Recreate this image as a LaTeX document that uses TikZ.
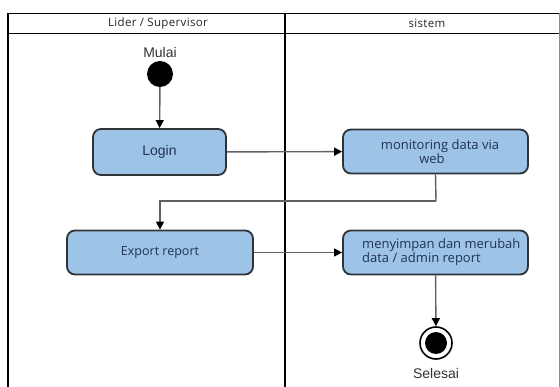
\documentclass[tikz,border=0pt]{standalone}
\usepackage{fontspec}
\setmainfont{Open Sans}
\newfontfamily\arialfont{Liberation Sans}
\newfontfamily\headfont[LetterSpace=3]{Open Sans}
\usetikzlibrary{arrows.meta}
\definecolor{actblue}{HTML}{9DC3E6}
\definecolor{actedge}{HTML}{2E3338}
\definecolor{acttext}{HTML}{1F3550}
\definecolor{flowgray}{HTML}{606060}
\tikzset{
  lane/.style={draw=black, line width=1.6pt},
  action/.style={draw=actedge, line width=1.8pt, fill=actblue, rounded corners=8pt,
    text=acttext, inner sep=0pt},
  flow/.style={draw=flowgray, line width=1.4pt,
    -{Triangle[length=8pt,width=8pt,color=black,fill=black]}},
  link/.style={draw=flowgray, line width=1.4pt},
  caption/.style={font=\arialfont\fontsize{14}{16}\selectfont, text=black!80},
  headtext/.style={font=\headfont\fontsize{11.5}{13}\selectfont, text=black!85},
  boxtext/.style={font=\fontsize{13}{14}\selectfont, text=acttext, inner sep=0pt},
}
\begin{document}
\begin{tikzpicture}[x=1pt, y=-1pt]
  \useasboundingbox (0,0) rectangle (560,387);
  \fill[white] (0,0) rectangle (560,387);

  % swimlane frame
  \draw[lane] (8,387) -- (8,13.5) -- (559,13.5);
  \draw[lane] (8,33.5) -- (559,33.5);
  \draw[lane] (285,13.5) -- (285,387);
  \draw[draw=black!45, line width=0.8pt] (559,13.5) -- (559,387);
  \node[headtext] (hlead) at (158,23.5) {Lider / Supervisor};
  \node[headtext] (hsys) at (427,23.5) {sistem};

  % start node
  \node[circle, fill=black, minimum size=26pt, inner sep=0pt] (start) at (160,74) {};
  \node[caption] (mulai) at (160,52) {Mulai};

  % actions
  \node[action, minimum width=133pt, minimum height=46pt,
        font=\arialfont\fontsize{14}{16}\selectfont] (login) at (159.5,152) {Login};
  \node[action, minimum width=185pt, minimum height=44pt, align=center,
        font=\fontsize{13}{14}\selectfont] (mon) at (435.5,151.5)
        {\hspace*{9pt}monitoring data via\\web\hspace*{7pt}};
  \node[action, minimum width=186pt, minimum height=44pt,
        font=\fontsize{12.5}{14}\selectfont] (exp) at (160,252.5) {Export report};
  \node[action, minimum width=185pt, minimum height=44pt] (sim) at (435.5,252.5) {};
  \node[boxtext, anchor=west, align=left] (simtext) at (362,252)
        {menyimpan dan merubah\\data / admin report};

  % end node
  \node[circle, draw=black, line width=1.6pt, fill=white, minimum size=32pt, inner sep=0pt] (end) at (436,343) {};
  \node[circle, fill=black, minimum size=22pt, inner sep=0pt] (endin) at (end.center) {};
  \node[caption] (selesai) at (436,373) {Selesai};

  % control flow
  \coordinate (bend) at (436,201);
  \draw[flow] (start) -- (login);
  \draw[flow] (login) -- (mon);
  \draw[link] (mon.south) -- (bend);
  \draw[flow] (bend) -| (exp.north);
  \draw[flow] (exp) -- (sim);
  \draw[flow] (sim) -- (end);
\end{tikzpicture}
\end{document}
